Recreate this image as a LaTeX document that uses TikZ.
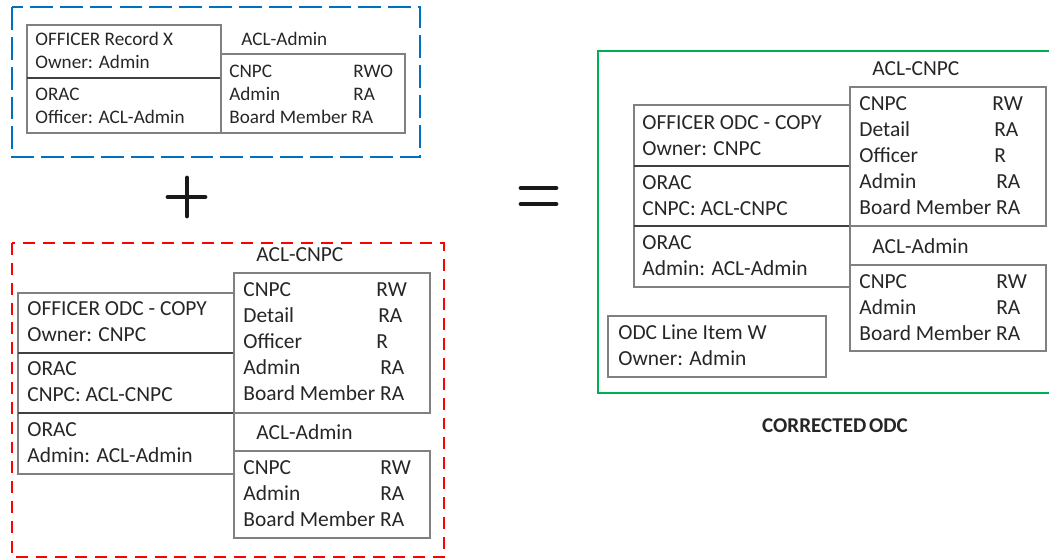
\documentclass[tikz,border=0pt]{standalone}
\usepackage{fontspec}
\setmainfont{Carlito}
\definecolor{aclblue}{RGB}{0,112,192}
\definecolor{aclred}{RGB}{255,0,0}
\definecolor{aclgreen}{RGB}{0,176,80}
\definecolor{ink}{RGB}{38,38,38}
\begin{document}
\begin{tikzpicture}[x=0.02cm,y=-0.02cm,
  box/.style={draw=black!50,line width=0.75pt},
  divider/.style={draw=black!75,line width=0.9pt},
  bigtxt/.style={anchor=west,inner sep=0pt,text=ink,
    font=\fontsize{12.2}{14}\selectfont,text height=7.86pt,text depth=0pt},
  smalltxt/.style={anchor=west,inner sep=0pt,text=ink,
    font=\fontsize{10.9}{13}\selectfont,text height=7.02pt,text depth=0pt},
  opline/.style={line width=2.7pt,line cap=round,draw=black!90}]
\useasboundingbox (0,0) rectangle (1049,558);
\clip (0,0) rectangle (1049,558);

% ---- record X with its admin ACL
\draw[aclblue,line width=1.1pt,dash pattern=on 13pt off 4pt] (12,7) rectangle (420,157);
\draw[box] (27,25) rectangle (221,133);
\draw[divider] (27,78) -- (221,78);
\draw[box] (221,54) rectangle (405,133);
\node[smalltxt] (xrec) at (35,39) {OFFICER Record X};
\node[smalltxt] (xown) at (35,62) {Owner: Admin};
\node[smalltxt] (xorac) at (35,94) {ORAC};
\node[smalltxt] (xoff) at (35,117) {Officer: ACL-Admin};
\node[smalltxt] (xacl) at (241,39) {ACL-Admin};
\node[smalltxt] (xcnpc) at (229,71) {CNPC};
\node[smalltxt] (xcnpcv) at (353,71) {RWO};
\node[smalltxt] (xadm) at (229,94) {Admin};
\node[smalltxt] (xadmv) at (353,94) {RA};
\node[smalltxt] (xbrd) at (229,117) {Board Member RA};

% ---- plus sign
\draw[opline] (168,197) -- (205,197);
\draw[opline] (187,178) -- (187,216);

% ---- ODC copy with its ACLs
\draw[aclred,line width=1.1pt,dash pattern=on 6.8pt off 4.5pt] (12,243) rectangle (444,557);
\draw[box] (18,293) rectangle (234,474);
\draw[divider] (18,353) -- (234,353);
\draw[divider] (18,413) -- (234,413);
\draw[box] (234,273) rectangle (430,413);
\draw[box] (234,451) rectangle (430,538);
\node[bigtxt] (crec) at (27,309) {OFFICER ODC - COPY};
\node[bigtxt] (cown) at (27,335) {Owner: CNPC};
\node[bigtxt] (corac1) at (27,369) {ORAC};
\node[bigtxt] (ccnpc) at (27,395) {CNPC: ACL-CNPC};
\node[bigtxt] (corac2) at (27,430) {ORAC};
\node[bigtxt] (cadm) at (27,456) {Admin: ACL-Admin};
\node[bigtxt] (caclc) at (256,255) {ACL-CNPC};
\node[bigtxt] (cc1) at (243,290) {CNPC};
\node[bigtxt] (cc1v) at (376,290) {RW};
\node[bigtxt] (cc2) at (243,316) {Detail};
\node[bigtxt] (cc2v) at (378,316) {RA};
\node[bigtxt] (cc3) at (243,342) {Officer};
\node[bigtxt] (cc3v) at (376,342) {R};
\node[bigtxt] (cc4) at (243,368) {Admin};
\node[bigtxt] (cc4v) at (380,368) {RA};
\node[bigtxt] (cc5) at (243,394) {Board Member RA};
\node[bigtxt] (cacla) at (256,433) {ACL-Admin};
\node[bigtxt] (ca1) at (243,468) {CNPC};
\node[bigtxt] (ca1v) at (380,468) {RW};
\node[bigtxt] (ca2) at (243,494) {Admin};
\node[bigtxt] (ca2v) at (380,494) {RA};
\node[bigtxt] (ca3) at (243,520) {Board Member RA};

% ---- equals sign
\draw[opline] (521,188) -- (556,188);
\draw[opline] (521,204) -- (556,204);

% ---- corrected ODC
\draw[aclgreen,line width=1.1pt] (598,51) rectangle (1070,393);
\draw[box] (634,105) rectangle (850,287);
\draw[divider] (634,166) -- (850,166);
\draw[divider] (634,226) -- (850,226);
\draw[box] (850,87) rectangle (1046,226);
\draw[box] (850,265) rectangle (1046,351);
\draw[box] (608,316) rectangle (826,377);
\node[bigtxt] (rrec) at (642,123) {OFFICER ODC - COPY};
\node[bigtxt] (rown) at (642,149) {Owner: CNPC};
\node[bigtxt] (rorac1) at (642,183) {ORAC};
\node[bigtxt] (rcnpc) at (642,209) {CNPC: ACL-CNPC};
\node[bigtxt] (rorac2) at (642,243) {ORAC};
\node[bigtxt] (radm) at (642,269) {Admin: ACL-Admin};
\node[bigtxt] (raclc) at (872,69) {ACL-CNPC};
\node[bigtxt] (rc1) at (859,104) {CNPC};
\node[bigtxt] (rc1v) at (992,104) {RW};
\node[bigtxt] (rc2) at (859,130) {Detail};
\node[bigtxt] (rc2v) at (994,130) {RA};
\node[bigtxt] (rc3) at (859,156) {Officer};
\node[bigtxt] (rc3v) at (994,156) {R};
\node[bigtxt] (rc4) at (859,182) {Admin};
\node[bigtxt] (rc4v) at (996,182) {RA};
\node[bigtxt] (rc5) at (859,208) {Board Member RA};
\node[bigtxt] (racla) at (872,247) {ACL-Admin};
\node[bigtxt] (ra1) at (859,282) {CNPC};
\node[bigtxt] (ra1v) at (996,282) {RW};
\node[bigtxt] (ra2) at (859,308) {Admin};
\node[bigtxt] (ra2v) at (996,308) {RA};
\node[bigtxt] (ra3) at (859,334) {Board Member RA};
\node[bigtxt] (lin1) at (618,333) {ODC Line Item W};
\node[bigtxt] (lin2) at (618,359) {Owner: Admin};
\node[inner sep=0pt,text=ink,font=\fontsize{12}{14}\selectfont\bfseries] (caption) at (835,426) {CORRECTED\hspace{1.5pt}ODC};
\end{tikzpicture}
\end{document}
